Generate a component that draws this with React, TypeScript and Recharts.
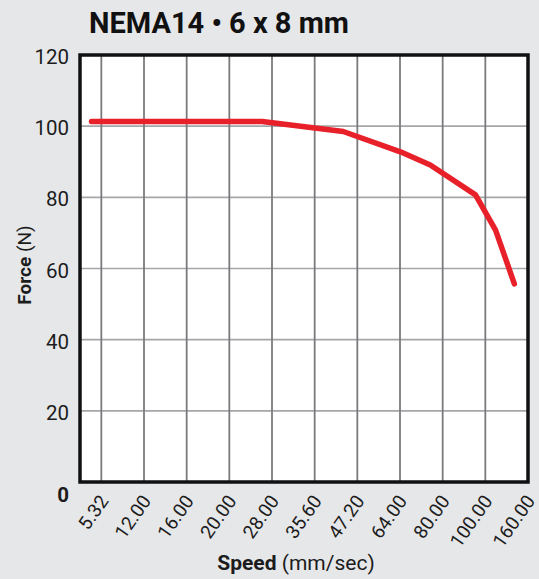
import React from "react";
import { LineChart, Line, XAxis, YAxis, CartesianGrid, ReferenceArea } from "recharts";

const speedLabels = ["5.32", "12.00", "16.00", "20.00", "28.00", "35.60", "47.20", "64.00", "80.00", "100.00", "160.00"];
const forceTicks = [0, 20, 40, 60, 80, 100, 120];
// curve points: position along the speed axis (in tick-index units) and force (N)
const curvePos = [-0.23, 3.77, 5.67, 7.01, 7.71, 8.77, 9.24, 9.68];
const curveForce = [101.3, 101.3, 98.5, 92.8, 89.1, 80.7, 70.8, 55.7];

const data = curvePos.map((p, i) => ({ pos: p, force: curveForce[i] }));
const tickIdx = speedLabels.map((_, i) => i);

const FONT = "Roboto, 'Noto Sans', sans-serif";
const TEXT = "#1c1c1c";

const XTick = (props: any) => {
  const { x, y, payload } = props;
  const ax = x + 8;
  const ay = y + 19;
  return (
    <text x={ax} y={ay} transform={`rotate(-55 ${ax} ${ay})`} textAnchor="end" fontSize={19} fontFamily={FONT} fill={TEXT}>
      {speedLabels[payload.value]}
    </text>
  );
};

const YTick = (props: any) => {
  const { x, y, payload } = props;
  const zero = payload.value === 0;
  return (
    <text x={x} y={zero ? y + 13 : y + 2} textAnchor="end" dominantBaseline="central" fontSize={20.5} fontWeight={zero ? 700 : 400} fontFamily={FONT} fill={TEXT}>
      {payload.value}
    </text>
  );
};

export default function App() {
  return (
    <div style={{ position: "absolute", left: 0, top: 0, width: 539, height: 579, background: "#e6e7e9", overflow: "hidden" }}>
      <LineChart width={539} height={579} data={data} margin={{ top: 55, right: 11, bottom: 37, left: 20 }}>
        <CartesianGrid horizontal={true} vertical={false} stroke="#a6a6a8" strokeWidth={1.6} fill="#ffffff" />
        <CartesianGrid horizontal={false} vertical={true} stroke="#7a7a7e" strokeWidth={1.8} />
        <XAxis
          type="number"
          dataKey="pos"
          domain={[-0.5, 10]}
          ticks={tickIdx}
          interval={0}
          allowDataOverflow
          axisLine={false}
          tickLine={false}
          tickSize={0}
          tickMargin={0}
          height={60}
          tick={<XTick />}
        />
        <YAxis
          type="number"
          domain={[0, 120]}
          ticks={forceTicks}
          interval={0}
          axisLine={false}
          tickLine={false}
          tickSize={0}
          tickMargin={11}
          width={60}
          tick={<YTick />}
        />
        <ReferenceArea x1={-0.5} x2={10} y1={0} y2={120} fill="none" fillOpacity={0} stroke="#111111" strokeWidth={3.5} ifOverflow="visible" />
        <Line
          type="linear"
          dataKey="force"
          stroke="#e8202a"
          strokeWidth={5.5}
          strokeLinecap="round"
          strokeLinejoin="round"
          dot={false}
          activeDot={false}
          isAnimationActive={false}
        />
      </LineChart>
      <svg width={539} height={579} style={{ position: "absolute", left: 0, top: 0, pointerEvents: "none" }}>
        <text x={219} y={33} textAnchor="middle" fontSize={29} fontWeight={700} fontFamily={FONT} fill="#111">
          NEMA14 • 6 x 8 mm
        </text>
        <text x={296} y={570} textAnchor="middle" fontSize={21} fontFamily={FONT} fill={TEXT}>
          <tspan fontWeight={700}>Speed</tspan>
          <tspan> (mm/sec)</tspan>
        </text>
        <text x={0} y={0} transform="translate(31 265) rotate(-90)" textAnchor="middle" fontSize={19} fontFamily={FONT} fill={TEXT}>
          <tspan fontWeight={700}>Force</tspan>
          <tspan> (N)</tspan>
        </text>
      </svg>
    </div>
  );
}
